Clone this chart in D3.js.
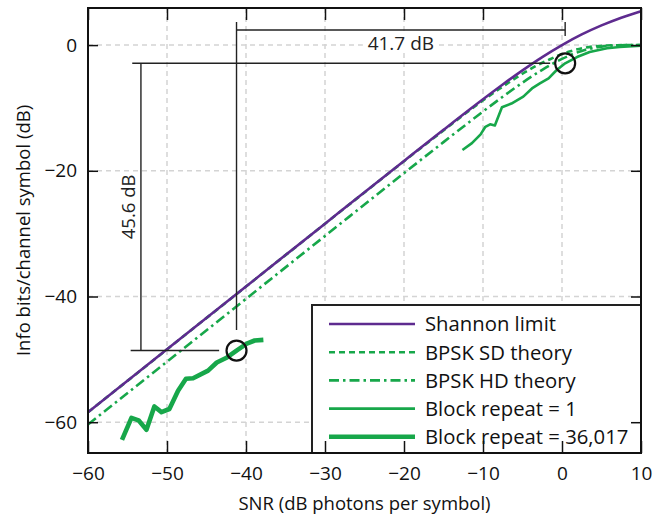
<!DOCTYPE html>
<html><head><meta charset="utf-8">
<script src="https://cdn.jsdelivr.net/npm/d3@7"></script>
<style>html,body{margin:0;padding:0;background:#fff;}svg{display:block;font-family:"Open Sans",sans-serif;}</style>
</head><body>
<svg id="c" width="665" height="517"></svg>
<script>
// ---------------- data ----------------
const xTicks = [-60,-50,-40,-30,-20,-10,0,10];
const yTicks = [0,-20,-40,-60];
const xLabel = "SNR (dB photons per symbol)";
const yLabel = "Info bits/channel symbol (dB)";

const shannonX = [-60,-50,-40,-30,-25,-20,-15,-10,-7.5,-5,-2.5,0,2.5,5,7.5,10];
const shannonY = [-58.41,-48.41,-38.41,-28.41,-23.41,-18.43,-13.48,-8.62,-6.27,-4.02,-1.91,0,1.69,3.13,4.36,5.39];

const sdX = [-60,-40,-30,-20,-15,-11.3,-7.95,-6.81,-5.27,-4.21,-2.82,-1.45,-0.70,0.38,1.07,2.74,3.98,5.5,7,10];
const sdY = [-58.42,-38.42,-28.43,-18.48,-13.58,-10.0,-6.99,-6.02,-4.77,-3.98,-3.01,-2.22,-1.76,-1.25,-0.97,-0.46,-0.22,-0.08,-0.02,0];

const hdX = [-60,-40,-30,-20,-15,-10,-7.5,-5,-2.5,0,2.5,5,7.5,10];
const hdY = [-60.37,-40.37,-30.37,-20.38,-15.44,-10.57,-8.22,-5.98,-3.94,-2.20,-0.93,-0.24,-0.02,0];

const rep1X = [-12.6,-11.4,-10.3,-9.7,-9.1,-8.5,-7.6,-6.4,-4.9,-3.8,-2.8,-1.7,-0.7,0.4,1.9,3.5,5.7,7.3,10];
const rep1Y = [-16.7,-15.6,-14.2,-13.0,-12.6,-12.8,-9.9,-9.3,-8.2,-6.9,-6.1,-5.3,-4.0,-2.9,-1.9,-1.1,-0.5,-0.3,-0.1];

const repNX = [-55.7,-54.5,-53.6,-52.6,-51.6,-50.7,-49.7,-48.6,-47.6,-46.7,-44.8,-43.7,-42.4,-41.2,-39.9,-38.9,-37.8];
const repNY = [-62.8,-59.3,-59.7,-61.2,-57.5,-58.4,-57.9,-55.0,-53.1,-53.0,-51.8,-50.5,-49.7,-48.6,-47.5,-47.0,-46.9];

const markX = [-41.2, 0.4];
const markY = [-48.6, -2.9];

const seriesNames = ["Shannon limit","BPSK SD theory","BPSK HD theory","Block repeat = 1","Block repeat = 36,017"];
const gapLabels = ["41.7 dB","45.6 dB"];

// ---------------- layout ----------------
const L = 88, R = 641, T = 8, B = 453;
const svg = d3.select("#c");
const x = d3.scaleLinear().domain([-60,10]).range([L,R]);
const y = d3.scaleLinear().domain([-64.9,5.9]).range([B,T]);

const PURPLE = "#5e2b8f", GREEN = "#17a74a";
const FS = 18.5;

// grid
const grid = svg.append("g").attr("stroke","#d4d4d4").attr("stroke-width",1.5).attr("stroke-dasharray","5,4");
grid.selectAll("line.gx").data(xTicks.slice(1,-1)).join("line")
  .attr("x1",d=>x(d)).attr("x2",d=>x(d)).attr("y1",T).attr("y2",B);
grid.selectAll("line.gy").data(yTicks).join("line")
  .attr("y1",d=>y(d)).attr("y2",d=>y(d)).attr("x1",L).attr("x2",R);

const zip = (xs,ys)=>xs.map((v,i)=>[v,ys[i]]);
const smooth = d3.line().x(d=>x(d[0])).y(d=>y(d[1])).curve(d3.curveMonotoneX);
const straight = d3.line().x(d=>x(d[0])).y(d=>y(d[1]));

const plot = svg.append("g");
plot.append("path").attr("d",smooth(zip(hdX,hdY))).attr("fill","none").attr("stroke",GREEN)
  .attr("stroke-width",2.6).attr("stroke-dasharray","10,4,2.5,4");
plot.append("path").attr("d",smooth(zip(sdX,sdY))).attr("fill","none").attr("stroke",GREEN)
  .attr("stroke-width",2.6).attr("stroke-dasharray","6,4");
plot.append("path").attr("d",smooth(zip(shannonX,shannonY))).attr("fill","none").attr("stroke",PURPLE)
  .attr("stroke-width",2.6);
plot.append("path").attr("d",straight(zip(rep1X,rep1Y))).attr("fill","none").attr("stroke",GREEN)
  .attr("stroke-width",2.6).attr("stroke-linejoin","round");
plot.append("path").attr("d",straight(zip(repNX,repNY))).attr("fill","none").attr("stroke",GREEN)
  .attr("stroke-width",4.6).attr("stroke-linejoin","round");

// annotations (data units)
const ann = svg.append("g").attr("stroke","#222").attr("stroke-width",1.4).attr("fill","none");
const topY = 2.4, topTick = 3.66;
ann.append("line").attr("x1",x(markX[0])).attr("x2",x(markX[1])).attr("y1",y(topY)).attr("y2",y(topY));
ann.append("line").attr("x1",x(markX[0])).attr("x2",x(markX[0])).attr("y1",y(topTick)).attr("y2",y(-45.35));
ann.append("line").attr("x1",x(markX[1])).attr("x2",x(markX[1])).attr("y1",y(topTick)).attr("y2",y(1.43));
const lvX = -53.3;
ann.append("line").attr("x1",x(-54.4)).attr("x2",x(-1.5)).attr("y1",y(markY[1])).attr("y2",y(markY[1]));
ann.append("line").attr("x1",x(lvX)).attr("x2",x(lvX)).attr("y1",y(markY[1])).attr("y2",y(markY[0]));
ann.append("line").attr("x1",x(-54.6)).attr("x2",x(-43.4)).attr("y1",y(markY[0])).attr("y2",y(markY[0]));

const tx = (x(markX[0])+x(markX[1]))/2;
svg.append("rect").attr("x",tx-38).attr("y",y(topY)+4).attr("width",76).attr("height",17).attr("fill","#fff");
svg.append("text").attr("x",tx).attr("y",y(topY)+20).attr("text-anchor","middle")
  .attr("font-size",19).attr("fill","#222").text(gapLabels[0]);
svg.append("text").attr("transform",`translate(${x(lvX)-6},${(y(markY[0])+y(markY[1]))/2}) rotate(-90)`)
  .attr("text-anchor","middle").attr("font-size",FS).attr("fill","#222").text(gapLabels[1]);

svg.append("g").selectAll("circle").data(zip(markX,markY)).join("circle")
  .attr("cx",d=>x(d[0])).attr("cy",d=>y(d[1])).attr("r",10)
  .attr("fill","none").attr("stroke","#111").attr("stroke-width",2.2);

// legend
const lg = svg.append("g");
const lx0 = 312, ly0 = 305;
lg.append("rect").attr("x",lx0).attr("y",ly0).attr("width",R-lx0).attr("height",B-ly0)
  .attr("fill","#fff").attr("stroke","#222").attr("stroke-width",2);
const styles = [
  {c:PURPLE,w:2.6,d:null},
  {c:GREEN,w:2.6,d:"6,4"},
  {c:GREEN,w:2.6,d:"10,4,2.5,4"},
  {c:GREEN,w:2.6,d:null},
  {c:GREEN,w:4.6,d:null}];
seriesNames.forEach((n,i)=>{
  const yy = ly0 + 19 + i*28.2;
  lg.append("line").attr("x1",329).attr("x2",415).attr("y1",yy).attr("y2",yy)
    .attr("stroke",styles[i].c).attr("stroke-width",styles[i].w).attr("stroke-dasharray",styles[i].d);
  lg.append("text").attr("x",425).attr("y",yy).attr("dy","0.36em").attr("font-size",20.3).attr("fill","#111").text(n);
});

// axes frame + ticks (inward, all four sides)
const ax = svg.append("g").attr("stroke","#111");
ax.append("rect").attr("x",L).attr("y",T).attr("width",R-L).attr("height",B-T).attr("fill","none").attr("stroke-width",2);
const fmt = d=>d3.format("")(d).replace("-","\u2212");
const gx = svg.append("g").attr("transform",`translate(0,${B})`)
  .call(d3.axisBottom(x).tickValues(xTicks).tickSizeInner(-12).tickSizeOuter(0).tickPadding(14).tickFormat(fmt));
gx.select(".domain").remove();
gx.selectAll("line").attr("stroke","#111").attr("stroke-width",1.5);
gx.selectAll("text").attr("font-size",19).attr("fill","#111").attr("font-family","Open Sans");
const gxt = svg.append("g").attr("transform",`translate(0,${T})`)
  .call(d3.axisTop(x).tickValues(xTicks).tickSizeInner(-12).tickSizeOuter(0).tickFormat(""));
gxt.select(".domain").remove(); gxt.selectAll("line").attr("stroke","#111").attr("stroke-width",1.5);
const gy = svg.append("g").attr("transform",`translate(${L},0)`)
  .call(d3.axisLeft(y).tickValues(yTicks).tickSizeInner(-10).tickSizeOuter(0).tickPadding(11).tickFormat(fmt));
gy.select(".domain").remove();
gy.selectAll("line").attr("stroke","#111").attr("stroke-width",1.5);
gy.selectAll("text").attr("font-size",19).attr("fill","#111").attr("font-family","Open Sans");
const gyr = svg.append("g").attr("transform",`translate(${R},0)`)
  .call(d3.axisRight(y).tickValues(yTicks).tickSizeInner(-10).tickSizeOuter(0).tickFormat(""));
gyr.select(".domain").remove(); gyr.selectAll("line").attr("stroke","#111").attr("stroke-width",1.5);

svg.append("text").attr("x",(L+R)/2).attr("y",510).attr("text-anchor","middle").attr("font-size",FS).attr("fill","#111").text(xLabel);
svg.append("text").attr("transform",`translate(30,${(T+B)/2}) rotate(-90)`).attr("text-anchor","middle")
  .attr("font-size",FS).attr("fill","#111").text(yLabel);
</script>
</body></html>
